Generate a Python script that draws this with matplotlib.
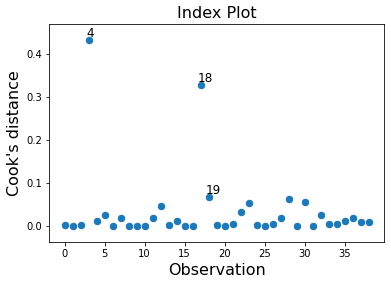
import matplotlib
matplotlib.use("Agg")
import matplotlib.pyplot as plt
import numpy as np

observations = list(range(39))
cooks_d = [0.002, 0.000, 0.002, 0.431, 0.013, 0.025, 0.000, 0.020, 0.000, 0.000,
           0.000, 0.018, 0.046, 0.002, 0.011, 0.000, 0.000, 0.328, 0.067, 0.002,
           0.000, 0.006, 0.032, 0.053, 0.002, 0.001, 0.004, 0.020, 0.064, 0.000,
           0.055, 0.000, 0.027, 0.006, 0.006, 0.011, 0.020, 0.009, 0.009]
labeled = [3, 17, 18]

fig = plt.figure(figsize=(391/72, 285/72), dpi=72)
ax = fig.add_axes([49.3/391, (285-241.7)/285, (384-49.3)/391, (241.7-24.3)/285])
ax.scatter(observations, cooks_d, s=42, color="#1f77b4")
for i in labeled:
    ax.annotate(str(i + 1), (observations[i], cooks_d[i]), xytext=(-2.5, 0),
                textcoords="offset points", fontsize=12, va="bottom")
ax.set_xlim(-1.9, 39.9)
ax.set_ylim(-0.036, 0.468)
ax.set_xticks([0, 5, 10, 15, 20, 25, 30, 35])
ax.set_yticks([0.0, 0.1, 0.2, 0.3, 0.4])
ax.set_title("Index Plot", fontsize=16)
ax.set_xlabel("Observation", fontsize=16)
ax.set_ylabel("Cook's distance", fontsize=16)
fig.savefig("out.png", dpi=72)
